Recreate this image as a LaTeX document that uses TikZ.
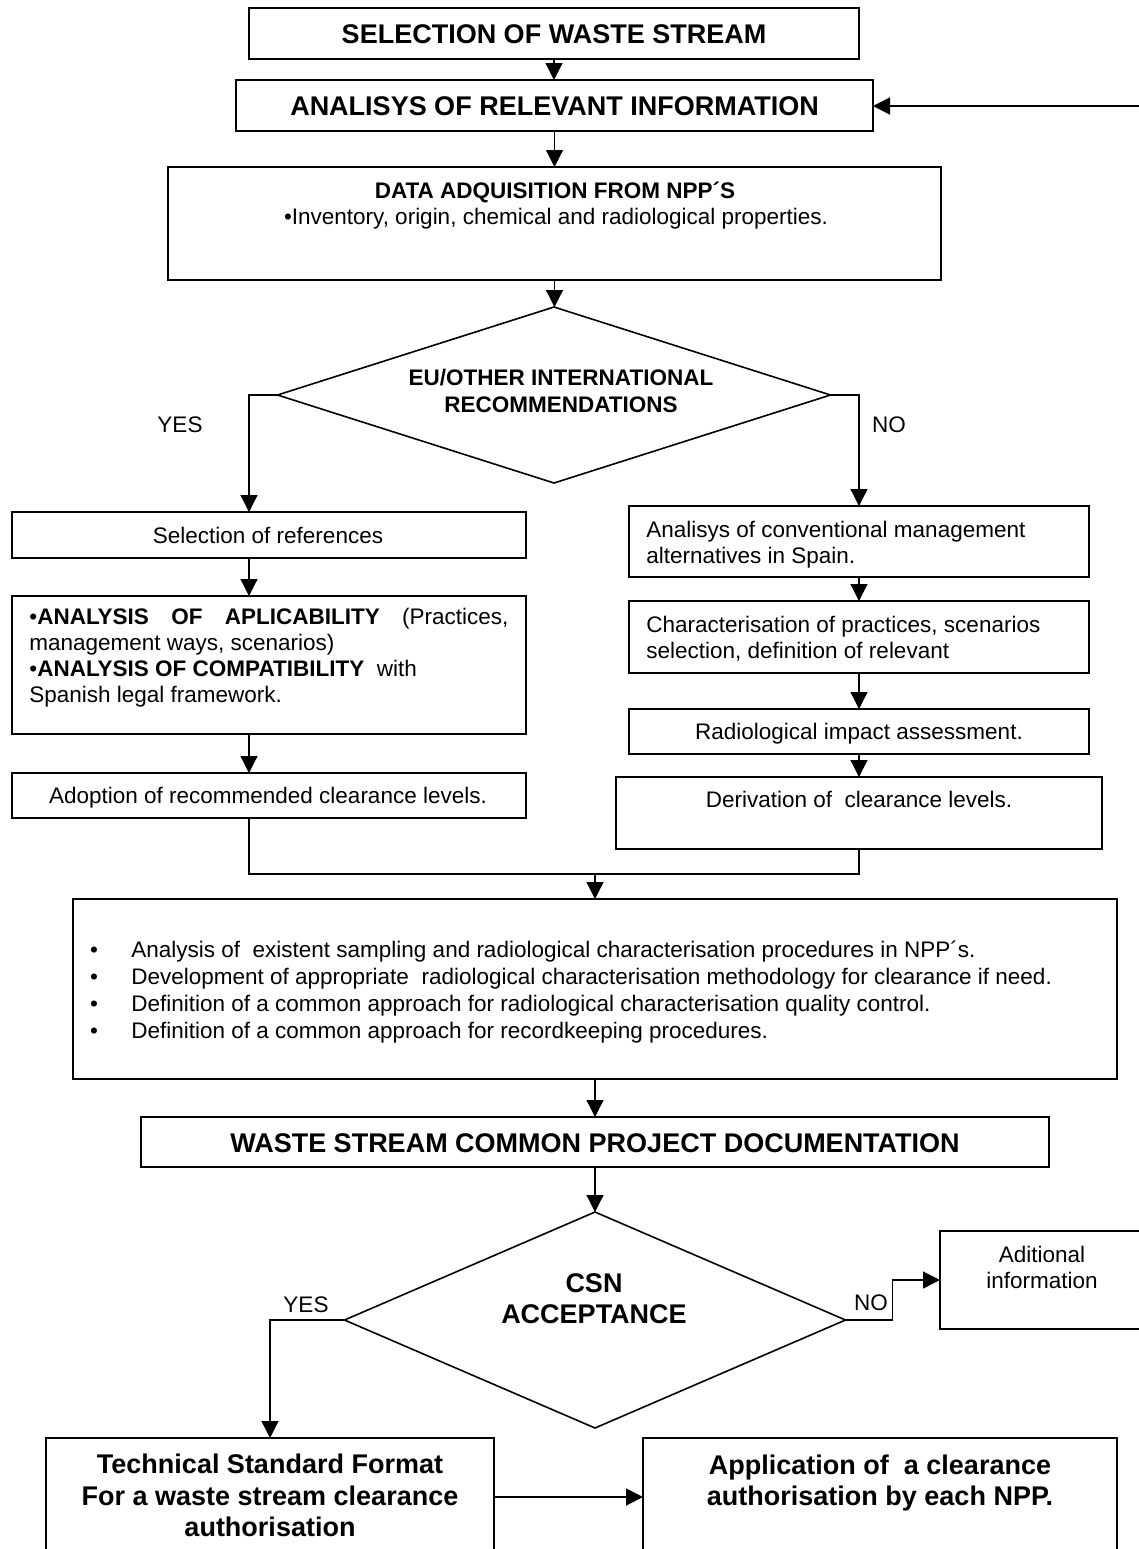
\documentclass[tikz,border=0pt]{standalone}
\usepackage{fontspec}
\setmainfont{Liberation Sans}
\usetikzlibrary{arrows.meta,shapes.geometric}
\begin{document}
\begin{tikzpicture}[x=0.5pt,y=-0.5pt,
  box/.style={draw, line width=1pt, inner sep=0pt, outer sep=0pt},
  cond/.style={diamond, draw, line width=0.8pt, inner sep=0pt, outer sep=0pt},
  arr/.style={-{Triangle[length=8.5pt,width=8.5pt]}, line width=0.6pt},
  arrb/.style={-{Triangle[length=8.5pt,width=8.5pt]}, line width=0.9pt},
  txt/.style={inner sep=0pt, font=\fontsize{11.25}{13}\selectfont},
  ttl/.style={inner sep=0pt, font=\bfseries\fontsize{13.5}{15.75}\selectfont}]
\useasboundingbox (0,0) rectangle (1139,1549);
\clip (0,0) rectangle (1139,1549);
\fill[white] (0,0) rectangle (1139,1549);

% boxes
\node[box, minimum width=305pt, minimum height=25.5pt] (b1) at (554,33.5) {};
\node[box, minimum width=318.5pt, minimum height=25.5pt] (b2) at (554.5,105.5) {};
\node[box, minimum width=386.5pt, minimum height=56.5pt] (b3) at (554.5,223.5) {};
\node[cond, minimum width=276.5pt, minimum height=88pt] (d1) at (554,395) {};
\node[box, minimum width=257pt, minimum height=23pt] (L1) at (269,535) {};
\node[box, minimum width=257pt, minimum height=69pt] (L2) at (269,665) {};
\node[box, minimum width=257pt, minimum height=22.5pt] (A2) at (269,795.5) {};
\node[box, minimum width=230pt, minimum height=35.5pt] (R1) at (859,541.5) {};
\node[box, minimum width=230pt, minimum height=36pt] (R2) at (859,637) {};
\node[box, minimum width=230pt, minimum height=22.5pt] (R3) at (859,731.5) {};
\node[box, minimum width=243pt, minimum height=36pt] (R4) at (859,813) {};
\node[box, minimum width=522pt, minimum height=90pt] (B) at (595,989) {};
\node[box, minimum width=454pt, minimum height=25pt] (B2) at (595,1142) {};
\node[cond, minimum width=250.5pt, minimum height=108pt] (d2) at (595,1320) {};
\node[box, minimum width=102.5pt, minimum height=49pt] (Ad) at (1042.5,1280) {};
\node[box, minimum width=224pt, minimum height=59pt] (T) at (270,1497) {};
\node[box, minimum width=237pt, minimum height=59pt] (App) at (880,1497) {};

% texts
\node[ttl, anchor=base] (t1) at (554,43) {SELECTION OF WASTE STREAM};
\node[ttl, anchor=base] (t2) at (554.5,115) {ANALISYS OF RELEVANT INFORMATION};
\node[txt, anchor=base, font=\bfseries\fontsize{11.25}{13}\selectfont] (t3a) at (555,198) {DATA ADQUISITION FROM NPP´S};
\node[txt, anchor=base] (t3b) at (556,224) {•Inventory, origin, chemical and radiological properties.};
\node[txt, anchor=base, font=\bfseries\fontsize{11.25}{13}\selectfont] (q1a) at (561,385) {EU/OTHER INTERNATIONAL};
\node[txt, anchor=base, font=\bfseries\fontsize{11.25}{13}\selectfont] (q1b) at (561,412) {RECOMMENDATIONS};
\node[txt, anchor=base] (yes1) at (180,432) {YES};
\node[txt, anchor=base] (no1) at (889,432) {NO};
\node[txt, anchor=base] (l1) at (268,543) {Selection of references};
\node[txt, anchor=base west] (l2a) at (29,624) {\makebox[239.5pt][s]{•\textbf{ANALYSIS OF APLICABILITY} (Practices,}};
\node[txt, anchor=base west] (l2b) at (29,650) {management ways, scenarios)};
\node[txt, anchor=base west] (l2c) at (29,676) {•\textbf{ANALYSIS OF COMPATIBILITY}~ with};
\node[txt, anchor=base west] (l2d) at (29,702) {Spanish legal framework.};
\node[txt, anchor=base] (a2) at (268,803) {Adoption of recommended clearance levels.};
\node[txt, anchor=base west] (r1a) at (646,537) {Analisys of conventional management};
\node[txt, anchor=base west] (r1b) at (646,563) {alternatives in Spain.};
\node[txt, anchor=base west] (r2a) at (646,632) {Characterisation of practices, scenarios};
\node[txt, anchor=base west] (r2b) at (646,658) {selection, definition of relevant};
\node[txt, anchor=base] (r3) at (859,739) {Radiological impact assessment.};
\node[txt, anchor=base] (r4) at (859,807) {Derivation of~ clearance levels.};
\node[txt, anchor=base] (bu1) at (94,957) {•};
\node[txt, anchor=base west] (bt1) at (131,957) {Analysis of~ existent sampling and radiological characterisation procedures in NPP´s.};
\node[txt, anchor=base] (bu2) at (94,984) {•};
\node[txt, anchor=base west] (bt2) at (131,984) {Development of appropriate~ radiological characterisation methodology for clearance if need.};
\node[txt, anchor=base] (bu3) at (94,1011) {•};
\node[txt, anchor=base west] (bt3) at (131,1011) {Definition of a common approach for radiological characterisation quality control.};
\node[txt, anchor=base] (bu4) at (94,1038) {•};
\node[txt, anchor=base west] (bt4) at (131,1038) {Definition of a common approach for recordkeeping procedures.};
\node[ttl, anchor=base] (tb2) at (595,1152) {WASTE STREAM COMMON PROJECT DOCUMENTATION};
\node[ttl, anchor=base] (q2a) at (594,1292) {CSN};
\node[ttl, anchor=base] (q2b) at (594,1323) {ACCEPTANCE};
\node[txt, anchor=base] (yes2) at (306,1312) {YES};
\node[txt, anchor=base] (no2) at (871,1310) {NO};
\node[txt, anchor=base] (ad1) at (1042,1262) {Aditional};
\node[txt, anchor=base] (ad2) at (1042,1288) {information};
\node[ttl, anchor=base] (tt1) at (270,1473) {Technical Standard Format};
\node[ttl, anchor=base] (tt2) at (270,1505) {For a waste stream clearance};
\node[ttl, anchor=base] (tt3) at (270,1536) {authorisation};
\node[ttl, anchor=base] (ap1) at (880,1474) {Application of~ a clearance};
\node[ttl, anchor=base] (ap2) at (880,1505) {authorisation by each NPP.};

% connectors
\coordinate (fb) at (1145,106);
\coordinate (mg) at (595,874);
\draw[arr] (b1.south) -- (b1.south |- b2.north);
\draw[arrb] (fb) -- (fb -| b2.east);
\draw[arr] (b2.south) -- (b2.south |- b3.north);
\draw[arr] (b3.south) -- (b3.south |- d1.north);
\draw[arr] (d1.west) -| ([xshift=-10pt]L1.north);
\draw[arr] ([xshift=-10pt]L1.south) -- ([xshift=-10pt]L2.north);
\draw[arr] ([xshift=-10pt]L2.south) -- ([xshift=-10pt]A2.north);
\draw[arr] (d1.east) -| (R1.north);
\draw[arr] (R1.south) -- (R2.north);
\draw[arr] (R2.south) -- (R3.north);
\draw[arr] (R3.south) -- (R4.north);
\draw[line width=0.6pt] ([xshift=-10pt]A2.south) |- (R4.south |- mg) -- (R4.south);
\draw[arr] (mg) -- (mg |- B.north);
\draw[arr] (B.south) -- (B2.north);
\draw[arr] (B2.south) -- (d2.north);
\draw[arr] (d2.west) -| (T.north);
\draw[arr] (d2.east) -- ++(47,0) |- (Ad.west);
\draw[arrb] (T.east) -- (App.west);
\end{tikzpicture}
\end{document}
